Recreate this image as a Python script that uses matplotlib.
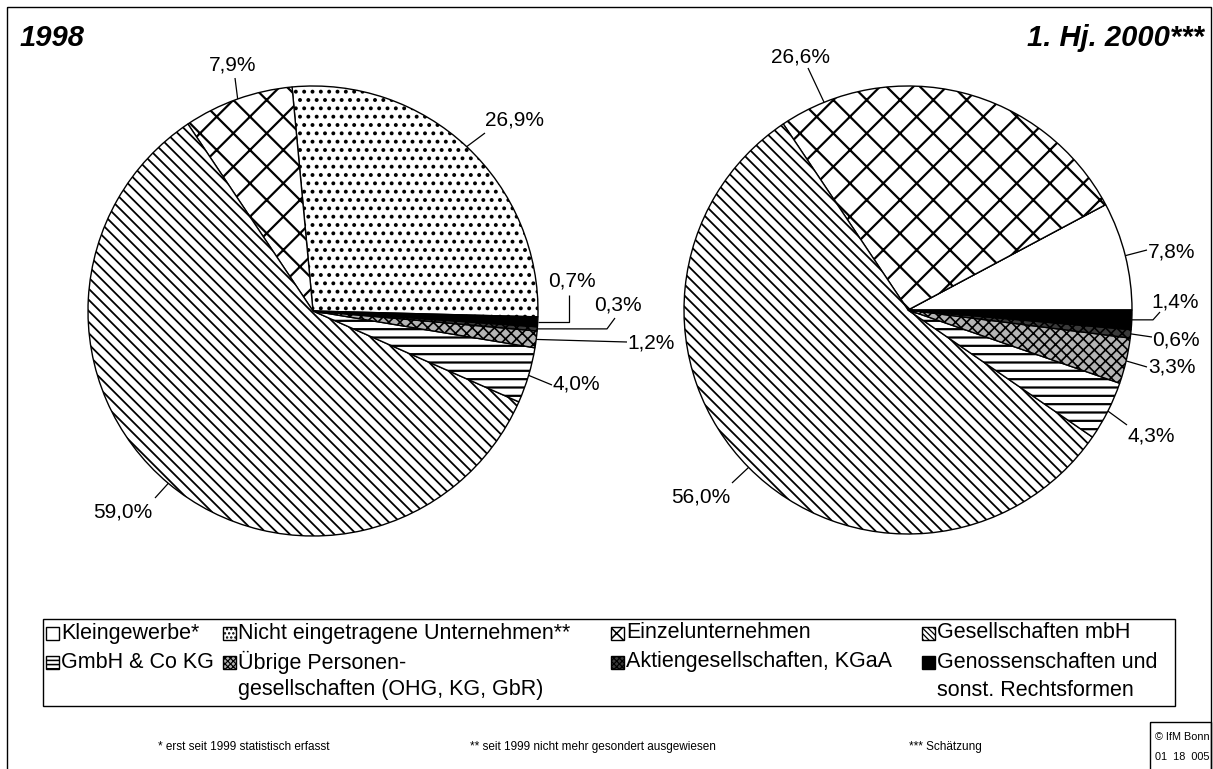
import numpy as np
import matplotlib.pyplot as plt
import matplotlib.patches as mpatches

plt.rcParams['font.family'] = ['Liberation Sans', 'DejaVu Sans']
plt.rcParams['hatch.linewidth'] = 1.4

###############################################################
# data
###############################################################
categories = ["Kleingewerbe*", "Nicht eingetragene Unternehmen**", "Einzelunternehmen",
              "Gesellschaften mbH", "GmbH & Co KG",
              "Übrige Personen-\ngesellschaften (OHG, KG, GbR)",
              "Aktiengesellschaften, KGaA", "Genossenschaften und\nsonst. Rechtsformen"]
share_1998 = [0.0, 26.9, 7.9, 59.0, 4.0, 1.2, 0.3, 0.7]
share_2000 = [7.8, 0.0, 26.6, 56.0, 4.3, 3.3, 0.6, 1.4]
titles = ["1998", "1. Hj. 2000***"]
footnotes = ["* erst seit 1999 statistisch erfasst",
             "** seit 1999 nicht mehr gesondert ausgewiesen",
             "*** Schätzung"]
source_lines = ["© IfM Bonn", "01  18  005"]

###############################################################
# styles / layout (pixels of a 1213 x 769 canvas)
###############################################################
W, H = 1213, 769
faces = ["white", "white", "white", "white", "white", "#b4b4b4", "#3a3a3a", "black"]
hatches = [None, "..", "x", "\\\\\\", "--", "xxx", "xxx", None]
hatch_lw = [1.0, 1.6, 1.6, 1.3, 1.6, 1.2, 1.2, 1.0]

# label layout: category index -> (text x, text y, attach x, attach y, elbow x, anchor angle)
labels_1998 = {1: (515, 120, 485, 133, None, None),
               2: (233, 65, 235, 78, None, None),
               3: (123, 512, 155, 498, None, None),
               4: (576, 384, 552, 385, None, None),
               5: (651, 343, 627, 342, None, None),
               6: (618, 305, 615, 318, 607, None),
               7: (572, 281, 569, 295, 569, None)}
labels_2000 = {0: (1172, 252, 1147, 250, None, None),
               2: (800, 57, 808, 68, None, 112),
               3: (701, 497, 732, 483, None, None),
               4: (1151, 436, 1127, 425, None, None),
               5: (1172, 367, 1147, 367, None, None),
               6: (1176, 340, 1152, 337, None, None),
               7: (1175, 302, 1160, 312, 1153, None)}

fig = plt.figure(figsize=(W / 100, H / 100), dpi=100)
ov = fig.add_axes([0, 0, 1, 1])
ov.set_xlim(0, W)
ov.set_ylim(H, 0)
ov.axis("off")


def fmt(v):
    return f"{v:.1f}%".replace(".", ",")


def style_patch(p, i, dense=1):
    if hatches[i]:
        p.set_hatch(hatches[i] * dense)
        if hasattr(p, "set_hatch_linewidth"):
            p.set_hatch_linewidth(hatch_lw[i] / dense ** 0.5)


def draw_pie(cx, cy, r, values, start, label_layout):
    ax = fig.add_axes([(cx - r) / W, 1 - (cy + r) / H, 2 * r / W, 2 * r / H])
    wedges, _ = ax.pie(values, startangle=start, counterclock=True, colors=faces,
                       wedgeprops=dict(edgecolor="black", linewidth=1.0))
    for i, w in enumerate(wedges):
        style_patch(w, i)
    ax.set_xlim(-1, 1)
    ax.set_ylim(-1, 1)

    for i, (tx, ty, ax_, ay_, ex, ang) in label_layout.items():
        w = wedges[i]
        if ang is None:
            ang = (w.theta1 + w.theta2) / 2
        mid = np.deg2rad(ang)
        px = cx + r * np.cos(mid)
        py = cy - r * np.sin(mid)
        xs, ys = [px], [py]
        if ex is not None:
            xs.append(ex)
            ys.append(py)
        xs.append(ax_)
        ys.append(ay_)
        ov.plot(xs, ys, color="black", lw=0.9, solid_capstyle="butt")
        ov.text(tx, ty, fmt(values[i]), fontsize=15, ha="center", va="center")
    return wedges


draw_pie(313, 311, 225, share_1998, -1.5, labels_1998)
draw_pie(908, 310, 224, share_2000, 0, labels_2000)

# titles
ov.text(20, 38, titles[0], fontsize=21, fontweight="bold", fontstyle="italic",
        ha="left", va="center")
ov.text(1204, 38, titles[1], fontsize=21, fontweight="bold", fontstyle="italic",
        ha="right", va="center")

# outer frame
ov.add_patch(mpatches.Rectangle((7, 7), 1204, 780, fill=False, edgecolor="black", lw=1))

# legend (manual so the handle sits on the first line)
ov.add_patch(mpatches.Rectangle((43, 619), 1132, 87, fill=False, edgecolor="black", lw=1))
legend_x = [46, 223, 611, 922]
legend_y = [633, 662]
for k in range(len(categories)):
    x = legend_x[k % 4]
    y = legend_y[k // 4]
    icon = mpatches.Rectangle((x, y - 6.5), 13, 13, facecolor=faces[k],
                              edgecolor="black", lw=1)
    style_patch(icon, k, dense=2)
    ov.add_patch(icon)
    for j, line in enumerate(categories[k].split("\n")):
        ov.text(x + 15, y + j * 28, line, fontsize=15.5, ha="left", va="center")

# footnotes
for x, t in zip([244, 593, 945], footnotes):
    ov.text(x, 747, t, fontsize=8.5, ha="center", va="center")

# source box
ov.add_patch(mpatches.Rectangle((1150, 722), 61, 60, fill=False, edgecolor="black", lw=1))
for y, t in zip([737, 757], source_lines):
    ov.text(1155, y, t, fontsize=7.8, ha="left", va="center")

fig.savefig("out.png", dpi=100)
